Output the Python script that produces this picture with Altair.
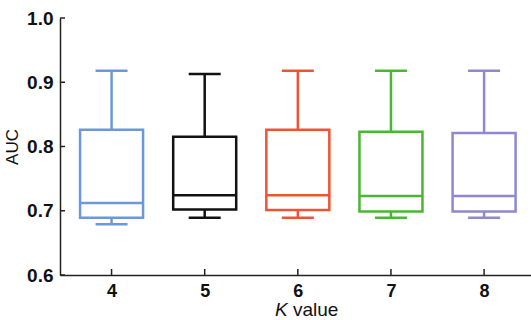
import altair as alt
import pandas as pd

# ---- data ----
k_values = [4, 5, 6, 7, 8]
k_names = ["4", "5", "6", "7", "8"]
low = [0.679, 0.689, 0.689, 0.689, 0.689]
q1 = [0.689, 0.702, 0.701, 0.699, 0.699]
median = [0.712, 0.724, 0.724, 0.723, 0.723]
q3 = [0.826, 0.815, 0.826, 0.823, 0.821]
high = [0.918, 0.913, 0.918, 0.918, 0.918]
colors = ["#6c98d8", "#111111", "#ee5432", "#4bb534", "#8f88d0"]
y_ticks = [0.6, 0.7, 0.8, 0.9, 1.0]

df = pd.DataFrame({"k": k_values, "kn": k_names, "low": low, "q1": q1,
                   "median": median, "q3": q3, "high": high})
ticks_df = pd.DataFrame({"v": y_ticks})

W, H = 471, 257
xs = alt.Scale(domain=[3.5, 8.45], nice=False, zero=False)
ys = alt.Scale(domain=[0.6, 1.0], nice=False, zero=False)
cs = alt.Scale(domain=k_names, range=colors)

x_enc = alt.X("k:Q", scale=xs,
              axis=alt.Axis(values=k_values, format="d", title=None, grid=False,
                            tickSize=0, labelPadding=7, labelFontSize=18,
                            labelFontWeight="bold", labelColor="#111",
                            domainColor="#222", domainWidth=1.5,
                            labelFont="Liberation Sans"))
y_enc = alt.Y("q1:Q", scale=ys,
              axis=alt.Axis(values=y_ticks, format=".1f", title="AUC", grid=False,
                            tickSize=0, labelPadding=7, labelFontSize=19,
                            labelFontWeight="bold", labelColor="#111",
                            domainColor="#222", domainWidth=1.5,
                            titleFontSize=17, titleFontWeight="normal",
                            titleColor="#111", titlePadding=5,
                            titleFont="Liberation Sans",
                            labelFont="Liberation Sans"))
col = alt.Color("kn:N", scale=cs, legend=None)

base = alt.Chart(df)

whisker = base.mark_rule(strokeWidth=2.5).encode(
    x=alt.X("k:Q", scale=xs), y=alt.Y("low:Q", scale=ys), y2="high:Q", color=col)

box = base.mark_bar(size=63, fill="white", strokeWidth=2.5).encode(
    x=x_enc, y=y_enc, y2="q3:Q", stroke=alt.Stroke("kn:N", scale=cs, legend=None))

med = base.mark_tick(orient="horizontal", size=63, thickness=2.5, opacity=1).encode(
    x=alt.X("k:Q", scale=xs), y=alt.Y("median:Q", scale=ys), color=col)

cap_lo = base.mark_tick(orient="horizontal", size=32, thickness=2.5, opacity=1).encode(
    x=alt.X("k:Q", scale=xs), y=alt.Y("low:Q", scale=ys), color=col)
cap_hi = base.mark_tick(orient="horizontal", size=32, thickness=2.5, opacity=1).encode(
    x=alt.X("k:Q", scale=xs), y=alt.Y("high:Q", scale=ys), color=col)

# inward axis ticks
ytk = alt.Chart(ticks_df).mark_rule(color="#222", strokeWidth=1.5).encode(
    y=alt.Y("v:Q", scale=ys), x=alt.value(0), x2=alt.value(5))
xtk = base.mark_rule(color="#222", strokeWidth=1.5).encode(
    x=alt.X("k:Q", scale=xs), y=alt.value(H), y2=alt.value(H - 6))

# x-axis title with italic K
t_k = alt.Chart(pd.DataFrame({"t": ["K"]})).mark_text(
    fontStyle="italic", fontSize=19, align="left", baseline="alphabetic",
    font="Liberation Sans", color="#111").encode(
    text="t:N", x=alt.value(215), y=alt.value(H + 41))
t_v = alt.Chart(pd.DataFrame({"t": ["value"]})).mark_text(
    fontSize=19, align="left", baseline="alphabetic",
    font="Liberation Sans", color="#111").encode(
    text="t:N", x=alt.value(233), y=alt.value(H + 41))

chart = alt.layer(whisker, box, med, cap_lo, cap_hi, ytk, xtk, t_k, t_v).properties(
    width=W, height=H,
    autosize=alt.AutoSizeParams(type="none"),
    padding={"left": 60, "top": 18, "right": 0, "bottom": 45},
    background="white",
).configure_view(stroke=None)

chart.save("out.html", embed_options={"renderer": "svg", "actions": False})
